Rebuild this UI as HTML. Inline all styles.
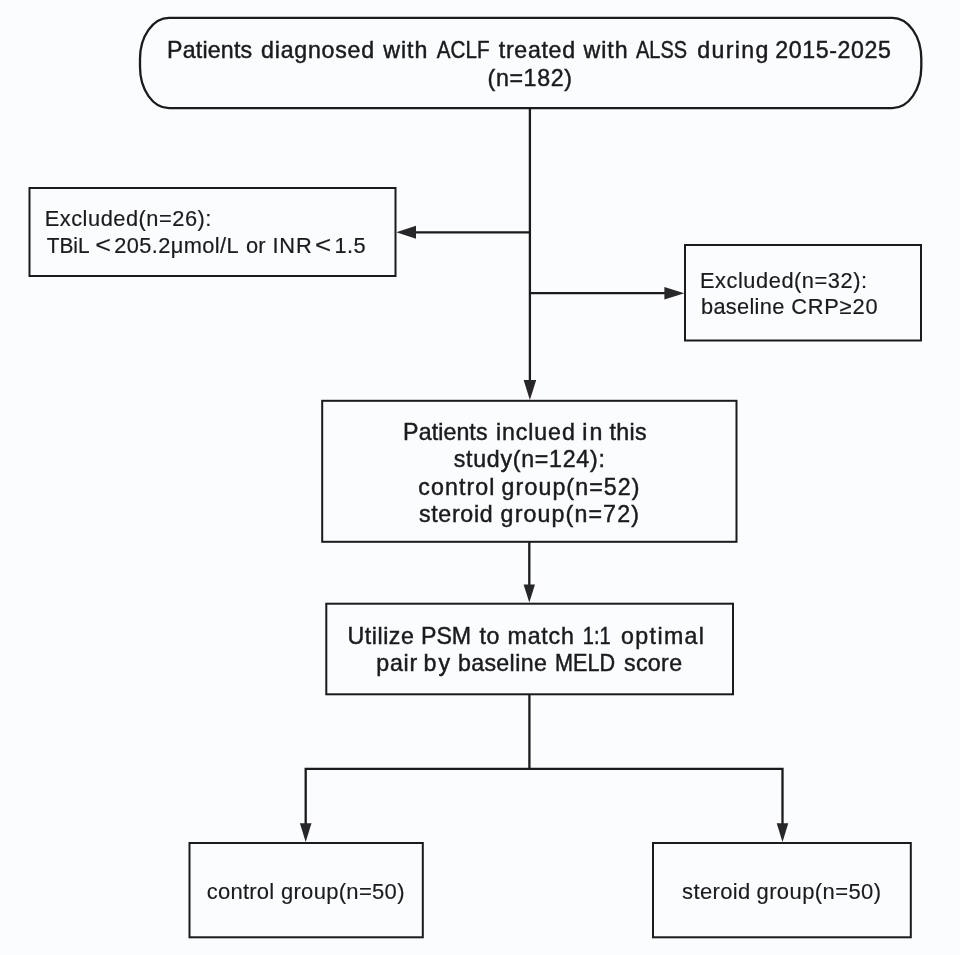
<!DOCTYPE html>
<html>
<head>
<meta charset="utf-8">
<style>
html,body{margin:0;padding:0;background:#fbfcfe;}
body{width:960px;height:955px;overflow:hidden;position:relative;}
svg{position:absolute;left:0;top:0;display:block;will-change:transform;}
text{font-family:"Liberation Sans",sans-serif;fill:#1a1a1f;stroke:#1a1a1f;stroke-width:0.35px;}
.h{font-size:23.2px;stroke-width:0.45px;}
.a{font-size:21.8px;stroke-width:0.2px;}
.b{font-size:22px;stroke-width:0.15px;}
.lt{font-size:24px;stroke-width:0.15px;}
</style>
</head>
<body>
<svg width="960" height="955" viewBox="0 0 960 955">
<g fill="none" stroke="#1a1a1f" stroke-width="2">
  <!-- top rounded box -->
  <rect x="140" y="17.8" width="781.3" height="90.3" rx="29" ry="41" stroke-width="2.3"/>
  <!-- excluded left -->
  <rect x="29.5" y="188" width="366" height="88"/>
  <!-- excluded right -->
  <rect x="685" y="245" width="236" height="95.5"/>
  <!-- middle -->
  <rect x="322.2" y="400.8" width="414.3" height="141"/>
  <!-- psm -->
  <rect x="326.3" y="603.7" width="406.7" height="90.6"/>
  <!-- bottom left -->
  <rect x="189.5" y="843" width="233.3" height="94.3"/>
  <!-- bottom right -->
  <rect x="653" y="843" width="257.8" height="94.3"/>
</g>
<g fill="none" stroke="#1a1a1f" stroke-width="2.3">
  <line x1="529.9" y1="108" x2="529.9" y2="382"/>
  <line x1="529.9" y1="232.3" x2="414" y2="232.3"/>
  <line x1="529.9" y1="293.2" x2="666" y2="293.2"/>
  <line x1="529.3" y1="542" x2="529.3" y2="586"/>
  <line x1="529.4" y1="694" x2="529.4" y2="769"/>
  <polyline points="305.7,824 305.7,768.9 782.5,768.9 782.5,824"/>
</g>
<g fill="#28262b" stroke="none">
  <polygon points="396.3,232.3 416,225.8 416,238.8"/>
  <polygon points="684.3,293.2 664.4,287 664.4,299.4"/>
  <polygon points="529.9,400 523.6,380 536.2,380"/>
  <polygon points="529.3,602.5 523.6,584.4 535,584.4"/>
  <polygon points="305.7,842 299.9,823.3 311.5,823.3"/>
  <polygon points="782.5,842 776.7,823.3 788.3,823.3"/>
</g>
<text class="h" x="167.00" y="58.30" textLength="85.20" lengthAdjust="spacing">Patients</text>
<text class="h" x="261.10" y="58.30" textLength="113.00" lengthAdjust="spacing">diagnosed</text>
<text class="h" x="383.30" y="58.30" textLength="44.10" lengthAdjust="spacing">with</text>
<text class="h" x="436.80" y="58.30" textLength="52.70" lengthAdjust="spacingAndGlyphs">ACLF</text>
<text class="h" x="498.80" y="58.30" textLength="76.30" lengthAdjust="spacing">treated</text>
<text class="h" x="583.50" y="58.30" textLength="44.10" lengthAdjust="spacing">with</text>
<text class="h" x="636.00" y="58.30" textLength="51.00" lengthAdjust="spacingAndGlyphs">ALSS</text>
<text class="h" x="697.20" y="58.30" textLength="71.30" lengthAdjust="spacing">during</text>
<text class="h" x="775.30" y="58.30" textLength="115.70" lengthAdjust="spacing">2015-2025</text>
<text class="h" x="487.50" y="85.60" textLength="84.50" lengthAdjust="spacing">(n=182)</text>
<text class="a" x="44.70" y="225.70" textLength="166.70" lengthAdjust="spacing">Excluded(n=26):</text>
<text class="a" x="46.70" y="252.60" textLength="42.90" lengthAdjust="spacingAndGlyphs">TBiL</text>
<text class="a lt" x="95.30" y="252.60" textLength="15.70" lengthAdjust="spacingAndGlyphs">&lt;</text>
<text class="a" x="114.30" y="252.60" textLength="124.30" lengthAdjust="spacing">205.2μmol/L</text>
<text class="a" x="245.90" y="252.60" textLength="19.60" lengthAdjust="spacing">or</text>
<text class="a" x="272.40" y="252.60" textLength="39.30" lengthAdjust="spacing">INR</text>
<text class="a lt" x="315.00" y="252.60" textLength="16.20" lengthAdjust="spacingAndGlyphs">&lt;</text>
<text class="a" x="334.40" y="252.60" textLength="31.30" lengthAdjust="spacing">1.5</text>
<text class="a" x="700.00" y="287.50" textLength="167.00" lengthAdjust="spacing">Excluded(n=32):</text>
<text class="a" x="701.00" y="314.10" textLength="83.25" lengthAdjust="spacing">baseline</text>
<text class="a" x="791.25" y="314.10" textLength="86.25" lengthAdjust="spacing">CRP≥20</text>
<text class="h" x="403.10" y="439.80" textLength="84.40" lengthAdjust="spacing">Patients</text>
<text class="h" x="496.00" y="439.80" textLength="78.80" lengthAdjust="spacing">inclued</text>
<text class="h" x="582.20" y="439.80" textLength="20.30" lengthAdjust="spacing">in</text>
<text class="h" x="609.50" y="439.80" textLength="37.20" lengthAdjust="spacing">this</text>
<text class="h" x="453.70" y="467.30" textLength="151.20" lengthAdjust="spacing">study(n=124):</text>
<text class="h" x="418.25" y="494.60" textLength="76.15" lengthAdjust="spacing">control</text>
<text class="h" x="501.60" y="494.60" textLength="137.90" lengthAdjust="spacing">group(n=52)</text>
<text class="h" x="418.90" y="521.90" textLength="73.80" lengthAdjust="spacing">steroid</text>
<text class="h" x="500.60" y="521.90" textLength="138.30" lengthAdjust="spacing">group(n=72)</text>
<text class="h" x="347.50" y="644.20" textLength="66.40" lengthAdjust="spacing">Utilize</text>
<text class="h" x="421.10" y="644.20" textLength="50.00" lengthAdjust="spacing">PSM</text>
<text class="h" x="479.50" y="644.20" textLength="19.90" lengthAdjust="spacing">to</text>
<text class="h" x="507.60" y="644.20" textLength="66.20" lengthAdjust="spacing">match</text>
<text class="h" x="582.80" y="644.20" textLength="27.90" lengthAdjust="spacingAndGlyphs">1:1</text>
<text class="h" x="621.10" y="644.20" textLength="82.90" lengthAdjust="spacing">optimal</text>
<text class="h" x="376.20" y="671.00" textLength="41.10" lengthAdjust="spacing">pair</text>
<text class="h" x="423.60" y="671.00" textLength="26.50" lengthAdjust="spacing">by</text>
<text class="h" x="457.90" y="671.00" textLength="88.90" lengthAdjust="spacing">baseline</text>
<text class="h" x="555.00" y="671.00" textLength="60.10" lengthAdjust="spacingAndGlyphs">MELD</text>
<text class="h" x="624.00" y="671.00" textLength="58.10" lengthAdjust="spacing">score</text>
<text class="b" x="206.75" y="898.60" textLength="67.35" lengthAdjust="spacing">control</text>
<text class="b" x="280.90" y="898.60" textLength="123.60" lengthAdjust="spacing">group(n=50)</text>
<text class="b" x="682.10" y="898.60" textLength="68.15" lengthAdjust="spacing">steroid</text>
<text class="b" x="756.50" y="898.60" textLength="124.50" lengthAdjust="spacing">group(n=50)</text>
</svg>
</body>
</html>
